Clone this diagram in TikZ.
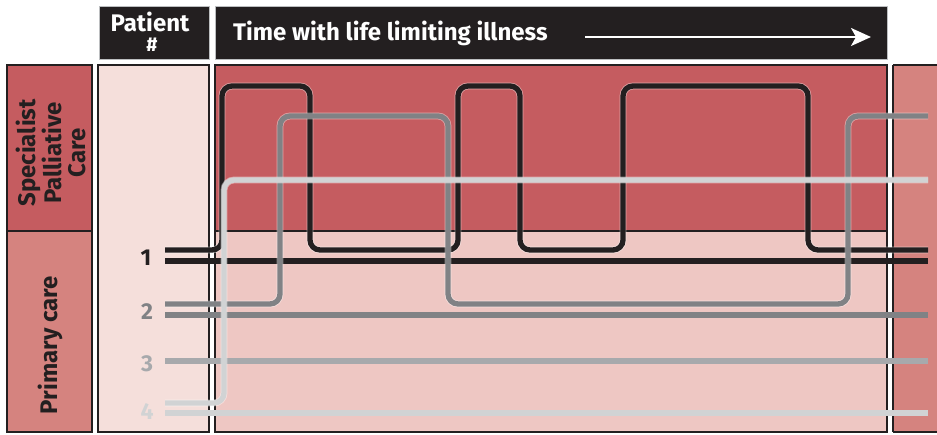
\documentclass[tikz,border=0pt]{standalone}
\usepackage{fontspec}
\setmainfont{Fira Sans}
\usetikzlibrary{arrows.meta}
\definecolor{hdr}{HTML}{231F20}
\definecolor{hdrborder}{HTML}{BCBEC0}
\definecolor{spcred}{HTML}{C55C60}
\definecolor{primred}{HTML}{D5837F}
\definecolor{patcol}{HTML}{F5DFDB}
\definecolor{lowpink}{HTML}{EEC7C3}
\definecolor{pone}{HTML}{231F20}
\definecolor{ptwo}{HTML}{808285}
\definecolor{pthree}{HTML}{A7A9AC}
\definecolor{pfour}{HTML}{D1D3D4}
\tikzset{
  hdrbox/.style={fill=hdr, draw=hdrborder, line width=0.8pt},
  panel/.style={draw=hdr, line width=1.3pt},
  hdrtext/.style={text=white, font=\bfseries\fontsize{24}{24}\selectfont, inner sep=0pt},
  sidetext/.style={text=hdr, font=\bfseries\fontsize{24}{24}\selectfont, align=center, rotate=90},
  numtext/.style={font=\bfseries\fontsize{23}{23}\selectfont},
  pathline/.style={line width=5.3pt, rounded corners=10pt},
  halo/.style={line width=6.8pt, draw=white, opacity=0.45, rounded corners=10pt}
}
\begin{document}
\begin{tikzpicture}[x=1pt,y=-1pt]
\useasboundingbox (0,0) rectangle (937,435);
% header
\node[hdrbox, minimum width=110pt, minimum height=53pt, anchor=north west, inner sep=0pt] (pathdr) at (99,6) {};
\node[hdrtext, anchor=base] (pattxt) at (150,32) {Patient};
\node[hdrtext, anchor=base, font=\bfseries\fontsize{20}{20}\selectfont] (hash) at (152,52) {\#};
\node[hdrbox, minimum width=672pt, minimum height=53pt, anchor=north west, inner sep=0pt] (timehdr) at (215,6) {};
\node[hdrtext, anchor=base west] (timetxt) at (233,41) {Time with life limiting illness};
\coordinate (arrs) at (585,37);
\coordinate (arre) at (871,37);
\draw[white, line width=2pt, -{Stealth[length=20pt, width=18pt, inset=5pt]}] (arrs) -- (arre);
% left column
\path[fill=spcred] (7,65) rectangle (92,231);
\path[fill=primred] (7,231) rectangle (92,432);
\draw[panel] (7,65) rectangle (92,432);
\draw[panel] (7,231) -- (92,231);
\node[sidetext] (spc) at (51,153) {Specialist\\Palliative\\Care};
\node[sidetext] (prim) at (50,345) {Primary care};
% patient column
\draw[panel, fill=patcol] (98,65) rectangle (209,432);
% main area
\path[fill=spcred] (215,65) rectangle (887,231);
\path[fill=lowpink] (215,231) rectangle (887,432);
\draw[panel] (215,65) rectangle (887,432);
\draw[panel] (215,231) -- (887,231);
% right strip
\path[fill=primred] (893,65) rectangle (940,432);
\draw[panel] (893,65) -- (893,432);
\draw[panel] (893,65) -- (940,65);
\draw[panel] (893,432) -- (940,432);
% numbers
\node[numtext, text=pone] (n1) at (146,258) {1};
\node[numtext, text=ptwo] (n2) at (147,312) {2};
\node[numtext, text=pthree] (n3) at (147,364) {3};
\node[numtext, text=pfour] (n4) at (147,412) {4};
% patient 1
\coordinate (p1a) at (165,250);
\coordinate (p1b) at (165,261);
\draw[halo] (p1a) -- (222,250) -- (222,86) -- (310,86) -- (310,250) -- (458,250) -- (458,86) -- (520,86) -- (520,250) -- (623,250) -- (623,86) -- (808,86) -- (808,250) -- (928,250);
\draw[pathline, pone] (p1a) -- (222,250) -- (222,86) -- (310,86) -- (310,250) -- (458,250) -- (458,86) -- (520,86) -- (520,250) -- (623,250) -- (623,86) -- (808,86) -- (808,250) -- (928,250);
\draw[halo] (p1b) -- (928,261);
\draw[pathline, pone] (p1b) -- (928,261);
% patient 2
\coordinate (p2a) at (165,304);
\coordinate (p2b) at (165,315);
\draw[halo] (p2a) -- (280,304) -- (280,116) -- (448,116) -- (448,304) -- (848,304) -- (848,116) -- (928,116);
\draw[pathline, ptwo] (p2a) -- (280,304) -- (280,116) -- (448,116) -- (448,304) -- (848,304) -- (848,116) -- (928,116);
\draw[halo] (p2b) -- (928,315);
\draw[pathline, ptwo] (p2b) -- (928,315);
% patient 3
\coordinate (p3a) at (165,361);
\draw[halo] (p3a) -- (928,361);
\draw[pathline, pthree] (p3a) -- (928,361);
% patient 4
\coordinate (p4a) at (165,403);
\coordinate (p4b) at (165,413);
\draw[halo] (p4a) -- (224,403) -- (224,180) -- (928,180);
\draw[pathline, pfour] (p4a) -- (224,403) -- (224,180) -- (928,180);
\draw[halo] (p4b) -- (928,413);
\draw[pathline, pfour] (p4b) -- (928,413);
\end{tikzpicture}
\end{document}
